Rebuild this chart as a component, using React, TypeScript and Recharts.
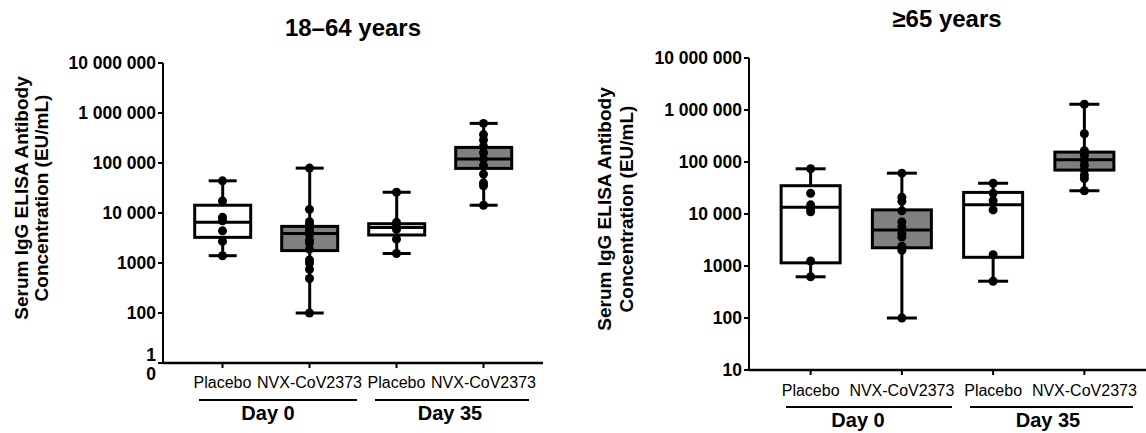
import React from 'react'
import { ComposedChart, Bar, Scatter, XAxis, YAxis } from 'recharts'

const groupIds = ['p0', 'n0', 'p35', 'n35']
const groupLabels = ['Placebo', 'NVX-CoV2373', 'Placebo', 'NVX-CoV2373']
const boxFills = ['#ffffff', '#808080', '#ffffff', '#808080']
const dayLabels = ['Day 0', 'Day 35']
const yTicks = [10, 100, 1000, 10000, 100000, 1000000, 10000000]

// 18–64 years
const youngMin = [1400, 100, 1550, 14300]
const youngQ1 = [3260, 1770, 3630, 78000]
const youngMedian = [6500, 3900, 5100, 120000]
const youngQ3 = [14300, 5400, 6100, 205000]
const youngMax = [44000, 79000, 26000, 620000]
const youngPoints = [
  [44000, 17400, 8200, 7000, 4400, 2700, 1400],
  [79000, 11800, 6700, 5800, 4900, 4300, 3700, 2900, 2500, 1900, 1150, 1000, 750, 490, 100],
  [26000, 6500, 5400, 4700, 3000, 1550],
  [620000, 370000, 290000, 215000, 160000, 120000, 88000, 60000, 40000, 35000, 14300],
]

// ≥65 years
const oldMin = [620, 100, 510, 28000]
const oldQ1 = [1150, 2240, 1470, 70000]
const oldMedian = [13500, 4900, 15000, 110000]
const oldQ3 = [35000, 12000, 26000, 155000]
const oldMax = [74000, 61000, 39000, 1290000]
const oldPoints = [
  [74000, 25000, 15000, 12500, 11000, 1250, 620],
  [61000, 21000, 17500, 11500, 7000, 5600, 4200, 3600, 2400, 2000, 100],
  [39000, 25000, 18000, 12000, 1650, 510],
  [1290000, 350000, 165000, 135000, 108000, 87000, 70000, 56000, 48000, 28000],
]

const FONT = '"Liberation Sans", Arial, Helvetica, sans-serif'

function buildRows(min: number[], q1: number[], med: number[], q3: number[], max: number[]) {
  return groupIds.map((id, i) => ({
    id,
    fill: boxFills[i],
    min: min[i],
    q1: q1[i],
    med: med[i],
    q3: q3[i],
    max: max[i],
  }))
}

function buildPoints(points: number[][]) {
  return points.flatMap((list, i) => list.map(v => ({ id: groupIds[i], v })))
}

function fmt(v: number) {
  if (v < 10000) return String(v)
  return String(v).replace(/\B(?=(\d{3})+(?!\d))/g, ' ')
}

interface PanelProps {
  rows: ReturnType<typeof buildRows>
  points: { id: string; v: number }[]
  width: number
  margin: { top: number; right: number; bottom: number; left: number }
  boxW: number
  capW: number
  labelDy: number
  splitBottom?: boolean
}

function Panel({ rows, points, width, margin, boxW, capW, labelDy, splitBottom }: PanelProps) {
  // separate objects per axis, sharing one dropped the x axis line
  const yLine = { stroke: '#000', strokeWidth: 2 }
  const yTickLine = { stroke: '#000', strokeWidth: 2 }
  const xLine = { stroke: '#000', strokeWidth: 2.5 }
  const xTickLine = { stroke: '#000', strokeWidth: 2 }

  const Whisker = (p: any) => {
    const cx = p.x + p.width / 2
    const top = p.y
    const bottom = p.y + p.height
    return (
      <g>
        <line x1={cx} x2={cx} y1={top} y2={bottom} stroke="#000" strokeWidth={3} />
        <line x1={cx - capW / 2} x2={cx + capW / 2} y1={top} y2={top} stroke="#000" strokeWidth={3} />
        <line x1={cx - capW / 2} x2={cx + capW / 2} y1={bottom} y2={bottom} stroke="#000" strokeWidth={3} />
      </g>
    )
  }

  const Box = (p: any) => {
    const cx = p.x + p.width / 2
    return (
      <rect x={cx - boxW / 2} y={p.y} width={boxW} height={p.height}
        fill={p.payload.fill} stroke="#000" strokeWidth={3} />
    )
  }

  const Median = (p: any) => {
    const cx = p.x + p.width / 2
    return <line x1={cx - boxW / 2} x2={cx + boxW / 2} y1={p.y} y2={p.y} stroke="#000" strokeWidth={3} />
  }

  const Dot = (p: any) => <circle cx={p.cx} cy={p.cy} r={4.5} fill="#000" />

  const YTick = (p: any) => {
    const v = p.payload.value
    if (splitBottom && v === 10) {
      return (
        <g fontFamily={FONT} fontWeight="bold" fontSize={17.5} fill="#000">
          <text x={p.x} y={p.y - 2} textAnchor="end">1</text>
          <text x={p.x} y={p.y + 17} textAnchor="end">0</text>
        </g>
      )
    }
    return (
      <text x={p.x} y={p.y} dy={6} textAnchor="end" fontFamily={FONT} fontWeight="bold" fontSize={17.5} fill="#000">
        {fmt(v)}
      </text>
    )
  }

  const XTick = (p: any) => {
    const i = groupIds.indexOf(p.payload.value)
    return (
      <text x={p.x} y={p.y} dy={labelDy} textAnchor="middle" fontFamily={FONT} fontSize={16} fill="#000">
        {groupLabels[i]}
      </text>
    )
  }

  const pad = { left: 16, right: 16 }

  return (
    <ComposedChart width={width} height={433} data={rows} margin={margin}>
      <XAxis xAxisId="main" dataKey="id" type="category" allowDuplicatedCategory={false}
        padding={pad} height={30} interval={0} axisLine={xLine} tickLine={xTickLine}
        tickSize={5} tick={<XTick />} />
      <XAxis xAxisId="w" dataKey="id" hide orientation="top" height={0} padding={pad} />
      <XAxis xAxisId="b" dataKey="id" hide orientation="top" height={0} padding={pad} />
      <XAxis xAxisId="m" dataKey="id" hide orientation="top" height={0} padding={pad} />
      <YAxis type="number" scale="log" domain={[10, 10000000]} ticks={yTicks} allowDataOverflow
        width={100} axisLine={yLine} tickLine={yTickLine} tickSize={5} interval={0} tick={<YTick />} />
      <Bar xAxisId="w" dataKey={(d: any) => [d.min, d.max]} shape={<Whisker />} isAnimationActive={false} />
      <Bar xAxisId="b" dataKey={(d: any) => [d.q1, d.q3]} shape={<Box />} isAnimationActive={false} />
      <Bar xAxisId="m" dataKey={(d: any) => [d.q1, d.med]} shape={<Median />} isAnimationActive={false} />
      <Scatter xAxisId="main" data={points} dataKey="v" shape={<Dot />} isAnimationActive={false} />
    </ComposedChart>
  )
}

export default function App() {
  const youngRows = buildRows(youngMin, youngQ1, youngMedian, youngQ3, youngMax)
  const oldRows = buildRows(oldMin, oldQ1, oldMedian, oldQ3, oldMax)
  const bold = { fontFamily: FONT, fontWeight: 'bold' as const, fill: '#000' }

  return (
    <div style={{ position: 'absolute', left: 0, top: 0, width: 1146, height: 433, background: '#fff', overflow: 'hidden' }}>
      <div style={{ position: 'absolute', left: 0, top: 0 }}>
        <Panel rows={youngRows} points={buildPoints(youngPoints)} width={580}
          margin={{ top: 63, right: 37, bottom: 40, left: 63 }} boxW={56} capW={28} labelDy={18} splitBottom />
      </div>
      <div style={{ position: 'absolute', left: 580, top: 0 }}>
        <Panel rows={oldRows} points={buildPoints(oldPoints)} width={566}
          margin={{ top: 58, right: 0, bottom: 33, left: 69 }} boxW={59} capW={30} labelDy={19} />
      </div>
      <svg width={1146} height={433} style={{ position: 'absolute', left: 0, top: 0, pointerEvents: 'none' }}>
        <text x={353} y={36} textAnchor="middle" fontSize={24} {...bold}>18–64 years</text>
        <text x={947} y={27} textAnchor="middle" fontSize={24} {...bold}>≥65 years</text>

        <g transform="translate(28,198) rotate(-90)">
          <text textAnchor="middle" fontSize={19} {...bold}>Serum IgG ELISA Antibody</text>
        </g>
        <g transform="translate(48,198) rotate(-90)">
          <text textAnchor="middle" fontSize={19} {...bold}>Concentration (EU/mL)</text>
        </g>
        <g transform="translate(611,209) rotate(-90)">
          <text textAnchor="middle" fontSize={19} {...bold}>Serum IgG ELISA Antibody</text>
        </g>
        <g transform="translate(633,209) rotate(-90)">
          <text textAnchor="middle" fontSize={19} {...bold}>Concentration (EU/mL)</text>
        </g>

        <line x1={199} x2={357} y1={400} y2={400} stroke="#000" strokeWidth={2} />
        <line x1={375} x2={529} y1={400} y2={400} stroke="#000" strokeWidth={2} />
        <text x={268} y={420} textAnchor="middle" fontSize={20} {...bold}>{dayLabels[0]}</text>
        <text x={450} y={420} textAnchor="middle" fontSize={20} {...bold}>{dayLabels[1]}</text>

        <line x1={786} x2={952} y1={407} y2={407} stroke="#000" strokeWidth={2} />
        <line x1={970} x2={1133} y1={407} y2={407} stroke="#000" strokeWidth={2} />
        <text x={858} y={427} textAnchor="middle" fontSize={20} {...bold}>{dayLabels[0]}</text>
        <text x={1048} y={427} textAnchor="middle" fontSize={20} {...bold}>{dayLabels[1]}</text>
      </svg>
    </div>
  )
}
